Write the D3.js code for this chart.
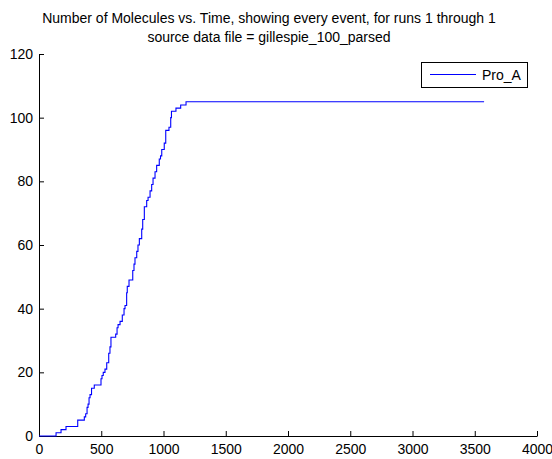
<!DOCTYPE html>
<html><head><meta charset="utf-8">
<script src="https://cdn.jsdelivr.net/npm/d3@7"></script>
<style>body{margin:0;background:#fff}svg{display:block}text{font-family:"Liberation Sans",Arial,sans-serif}</style>
</head><body>
<svg id="c" width="552" height="459"></svg>
<script>
const titleLines = ["Number of Molecules vs. Time, showing every event, for runs 1 through 1", "source data file = gillespie_100_parsed"];
const seriesName = "Pro_A";
const xTicks = [0,500,1000,1500,2000,2500,3000,3500,4000];
const yTicks = [0,20,40,60,80,100,120];
const times = [0,137,177,217,311,364,375,386,394,402,410,422,444,498,506,516,530,544,560,570,578,616,627,635,651,669,683,691,704,709,723,753,763,771,785,795,806,825,833,846,865,876,892,905,916,932,945,966,976,986,1006,1018,1044,1058,1064,1100,1138,1181,3575];
const counts = [0,1,2,3,5,6,7,9,10,12,13,15,16,18,19,20,21,23,26,28,31,32,34,35,36,38,40,41,45,47,49,52,54,56,58,60,62,65,68,72,74,75,77,79,81,83,85,87,88,90,92,96,97,100,102,103,104,105,105];

const svg = d3.select("#c");
const L = 39, R = 537, T = 54, B = 436;
const x = d3.scaleLinear().domain([0,4000]).range([L,R]);
const y = d3.scaleLinear().domain([0,120]).range([B,T]);
const data = times.map((t,i)=>({t, v: counts[i]}));
const FS = 14;

svg.append("g").selectAll("text").data(titleLines).join("text")
  .attr("x", 269).attr("y",(d,i)=>22.5+i*19).attr("text-anchor","middle")
  .attr("font-size",FS).attr("fill","#000").text(d=>d);

const xa = svg.append("g").attr("transform",`translate(0,${B})`)
  .call(d3.axisBottom(x).tickValues(xTicks).tickSizeInner(-5).tickSizeOuter(0).tickPadding(8).tickFormat(d3.format("d")));
const ya = svg.append("g").attr("transform",`translate(${L},0)`)
  .call(d3.axisLeft(y).tickValues(yTicks).tickSizeInner(-5).tickSizeOuter(0).tickPadding(6).tickFormat(d3.format("d")));
[xa,ya].forEach(g=>{
  g.selectAll("text").attr("font-size",FS).attr("fill","#000").attr("font-family","'Liberation Sans',Arial,sans-serif");
  g.selectAll("line,path").attr("stroke","#000");
});

svg.append("path").datum(data)
  .attr("fill","none").attr("stroke","#0000ff").attr("stroke-width",1.1)
  .attr("d", d3.line().x(d=>x(d.t)).y(d=>y(d.v)).curve(d3.curveStepAfter));

const lg = svg.append("g");
lg.append("rect").attr("x",421.5).attr("y",62.5).attr("width",106).attr("height",25)
  .attr("fill","#fff").attr("stroke","#000");
lg.append("line").attr("x1",430).attr("x2",476).attr("y1",74.5).attr("y2",74.5)
  .attr("stroke","#0000ff").attr("stroke-width",1.1);
lg.append("text").attr("x",482).attr("y",80).attr("font-size",FS).attr("fill","#000").text(seriesName);
</script>
</body></html>
